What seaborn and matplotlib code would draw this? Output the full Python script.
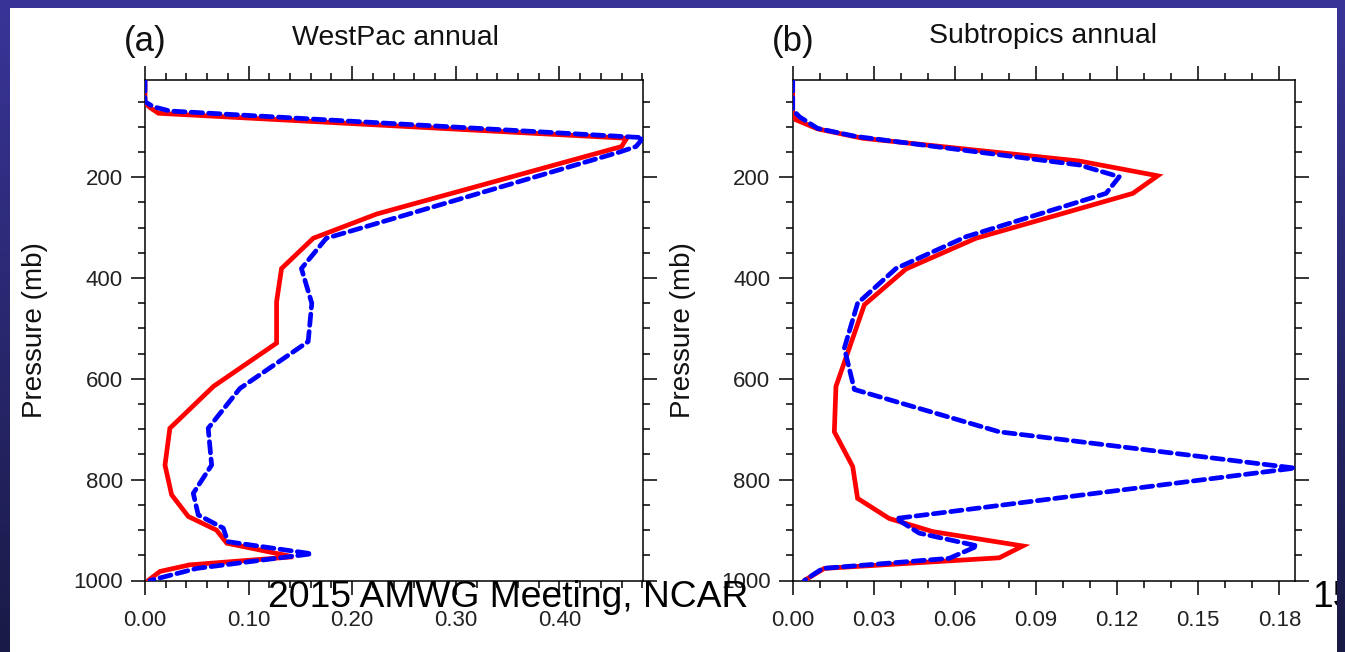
import numpy as np
import pandas as pd
import matplotlib
matplotlib.use("Agg")
import matplotlib.pyplot as plt
from matplotlib.ticker import FixedLocator, FormatStrFormatter
import seaborn as sns

# ---------------- data ----------------
# Panel (a) WestPac annual
wp_ctl_p = [7, 53, 62, 73, 122.6, 139, 273, 321, 381, 447, 529, 615, 698, 771, 830, 873, 900, 926, 953, 969, 982, 1000]
wp_ctl_x = [0.0, 0.0, 0.005, 0.013, 0.465, 0.460, 0.2235, 0.1624, 0.1318, 0.127, 0.127, 0.066, 0.024, 0.0193, 0.0257, 0.0418, 0.069, 0.079, 0.143, 0.043, 0.0145, 0.003]
wp_exp_p = [7, 50, 60, 68.5, 121.4, 139, 150, 321, 381, 450, 526, 619, 698, 771, 827, 870, 896, 923, 947, 976, 1000]
wp_exp_x = [0.0, 0.0, 0.008, 0.024, 0.481, 0.474, 0.458, 0.175, 0.151, 0.161, 0.1575, 0.0916, 0.061, 0.0643, 0.0466, 0.0514, 0.0755, 0.080, 0.161, 0.050, 0.0048]

# Panel (b) Subtropics annual
st_ctl_p = [7, 73, 86, 104, 122.6, 167.7, 197, 232, 321, 382, 453, 615, 705, 774, 837, 877, 903, 931.5, 955, 976, 1000]
st_ctl_x = [0.0, 0.0, 0.0012, 0.0092, 0.0259, 0.106, 0.135, 0.1258, 0.0678, 0.0419, 0.0265, 0.016, 0.0154, 0.0222, 0.024, 0.0357, 0.0518, 0.0851, 0.0764, 0.0117, 0.0043]
st_exp_p = [7, 66, 80, 103, 119, 175.6, 199, 232, 318, 381, 450, 539, 621, 705, 777, 877, 906, 931.5, 956, 976, 1000]
st_exp_x = [0.0, 0.0, 0.0025, 0.0092, 0.0234, 0.106, 0.1208, 0.1159, 0.0641, 0.0382, 0.024, 0.0191, 0.0228, 0.0764, 0.1858, 0.0382, 0.0468, 0.0684, 0.0579, 0.0111, 0.0043]

titles = ["WestPac annual", "Subtropics annual"]
panel_tags = ["(a)", "(b)"]
y_label = "Pressure (mb)"
y_major = [200, 400, 600, 800, 1000]
y_minor = [50, 100, 150, 250, 300, 350, 450, 500, 550, 650, 700, 750, 850, 900, 950]
xa_major = [0.0, 0.1, 0.2, 0.3, 0.4]
xb_major = [0.0, 0.03, 0.06, 0.09, 0.12, 0.15, 0.18]
footer = "2015 AMWG Meeting, NCAR"
page_no = "15"

# ---------------- style ----------------
sns.set_style("ticks")
plt.rcParams["font.family"] = ["Liberation Sans", "DejaVu Sans"]

W, H = 1345, 652
fig = plt.figure(figsize=(W / 100, H / 100), dpi=100)
fig.patch.set_facecolor("white")

top_c = np.array([0x39, 0x35, 0x98]) / 255.0
bot_c = np.array([0x1a, 0x1a, 0x46]) / 255.0
grad = np.linspace(0, 1, 256)[:, None, None]
grad_img = top_c[None, None, :] * (1 - grad) + bot_c[None, None, :] * grad

# background frame (slide border)
bg = fig.add_axes([0, 0, 1, 1], zorder=-10)
bg.imshow(grad_img, aspect="auto", extent=[0, 1, 0, 1])
bg.add_patch(plt.Rectangle((10 / W, 0), (1337 - 10) / W, (H - 8) / H,
                           transform=bg.transAxes, facecolor="white", edgecolor="none"))
bg.set_xlim(0, 1); bg.set_ylim(0, 1)
bg.axis("off")


def px_axes(x0, x1, y0, y1):
    return [x0 / W, 1 - y1 / H, (x1 - x0) / W, (y1 - y0) / H]


ax_a = fig.add_axes(px_axes(145, 643.3, 80, 580.5))
ax_b = fig.add_axes(px_axes(792.7, 1295, 80, 580.5))

panels = [
    (ax_a, wp_ctl_p, wp_ctl_x, wp_exp_p, wp_exp_x, xa_major, 0.02, -0.195),
    (ax_b, st_ctl_p, st_ctl_x, st_exp_p, st_exp_x, xb_major, 0.01, -0.193),
]

for ax, cp, cx, ep, ex, xmaj, xminstep, ylx in panels:
    df_c = pd.DataFrame({"p": cp, "v": cx})
    df_e = pd.DataFrame({"p": ep, "v": ex})
    sns.lineplot(data=df_c, x="v", y="p", sort=False, estimator=None, ax=ax,
                 color="#ff0000", linewidth=3.4, zorder=3)
    sns.lineplot(data=df_e, x="v", y="p", sort=False, estimator=None, ax=ax,
                 color="#0000ff", linewidth=3.4, zorder=4)
    ax.lines[-1].set_dashes((2.4, 1.3))
    ax.lines[-1].set_dash_capstyle("round")
    ax.lines[-2].set_solid_capstyle("round")
    ax.lines[-2].set_solid_joinstyle("miter")

    xmax = max(max(cx), max(ex))
    ax.set_xlim(0, xmax)
    ax.set_ylim(1000, 7)
    ax.set_facecolor("white")
    ax.set_xlabel("")
    ax.set_ylabel(y_label, fontsize=20, labelpad=0, color="#111111")
    ax.yaxis.set_label_coords(ylx, 0.5)

    ax.yaxis.set_major_locator(FixedLocator(y_major))
    ax.yaxis.set_minor_locator(FixedLocator(y_minor))
    ax.xaxis.set_major_locator(FixedLocator(xmaj))
    ax.xaxis.set_minor_locator(FixedLocator(np.round(np.arange(0, xmax, xminstep), 4)))
    ax.xaxis.set_major_formatter(FormatStrFormatter("%.2f"))
    ax.set_yticklabels([str(v) for v in y_major])

    ax.tick_params(which="both", direction="out", top=True, right=True,
                   bottom=True, left=True, labeltop=False, labelright=False,
                   colors="black", width=1.1)
    ax.tick_params(which="major", length=10, labelsize=16, labelcolor="#222222")
    ax.tick_params(axis="x", which="major", pad=11)
    ax.tick_params(axis="y", which="major", pad=6)
    ax.tick_params(which="minor", length=5)
    for s in ax.spines.values():
        s.set_visible(True)
        s.set_linewidth(1.1)
        s.set_color("black")
    ax.grid(False)

# titles
fig.text(145 / W, 1 - 41 / H, panel_tags[0], fontsize=25, ha="center", va="center", color="#111111")
fig.text(395 / W, 1 - 38 / H, titles[0], fontsize=20.5, ha="center", va="center", color="#111111")
fig.text(793 / W, 1 - 41 / H, panel_tags[1], fontsize=25, ha="center", va="center", color="#111111")
fig.text(1043 / W, 1 - 36 / H, titles[1], fontsize=20.5, ha="center", va="center", color="#111111")

# footer
fig.text(268 / W, 1 - 607 / H, footer, fontsize=26.8, ha="left", va="baseline", color="black", zorder=5)
fig.text(1312 / W, 1 - 607 / H, page_no, fontsize=26.8, ha="left", va="baseline", color="black", zorder=5)

# right and top border strips drawn above the page number
rs = fig.add_axes([1337 / W, 0, (W - 1337) / W, 1], zorder=20)
rs.imshow(grad_img, aspect="auto", extent=[0, 1, 0, 1])
rs.axis("off")
ts = fig.add_axes([0, 1 - 8 / H, 1, 8 / H], zorder=20)
ts.imshow(grad_img[:4], aspect="auto", extent=[0, 1, 0, 1])
ts.axis("off")

fig.savefig("out.png", dpi=100, facecolor=fig.get_facecolor())
